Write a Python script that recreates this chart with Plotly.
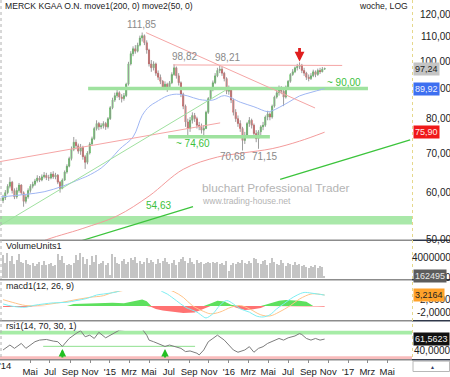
import math
import pandas as pd
import plotly.graph_objects as go

W, H = 450, 377
FONT = "Liberation Sans, Arial, sans-serif"

# ------------------------------------------------------------------ data
START = "2014-02-07"  # first weekly candle (Friday)

closes = [58.8, 60.0, 61.5, 62.5, 60.5, 59.0, 60.5, 61.8, 60.0,
          58.0, 59.0, 60.5, 61.5, 62.0, 62.8, 63.5, 63.0, 63.8, 64.2,
          63.6, 63.5, 64.5, 63.8, 64.2, 62.5, 61.0, 63.0, 65.0,
          66.5, 68.5, 71.0, 73.0, 72.0, 70.5, 71.5, 69.0, 67.5, 70.0,
          72.5, 74.0, 77.0, 78.5, 77.5, 77.8, 78.5, 77.5, 80.0,
          83.5, 86.0, 87.5, 88.5, 87.0, 86.5, 87.5, 91.5, 99.0, 103.0,
          105.0, 104.0, 106.5, 109.5, 110.5, 107.5, 104.5, 99.0, 97.5,
          99.0, 95.5, 94.0, 92.5, 90.5, 91.5, 90.0, 92.0, 95.0, 97.5,
          94.5, 92.0, 88.0, 84.0, 79.0, 77.0, 79.5, 81.0, 80.0, 78.0,
          77.5, 76.5, 77.0, 82.0, 86.5, 89.5, 92.0, 94.5, 96.5, 97.0,
          95.5, 93.5, 89.0, 89.5, 86.0, 82.0, 80.0, 78.5, 77.0,
          73.5, 75.0, 78.5, 79.5, 78.0, 75.5, 74.0, 76.0, 77.5, 78.0,
          80.5, 81.5, 80.5, 84.0, 87.0, 88.5, 90.0, 89.0, 87.0, 90.5,
          92.5, 95.0, 96.0, 97.5, 98.0, 98.5, 96.5, 95.5, 94.0,
          93.5, 94.5, 96.0, 95.0, 96.5, 96.0, 97.0, 97.24]
opens = [58.2, 58.8, 60.0, 61.5, 62.5, 60.5, 59.0, 60.5, 61.8,
         60.0, 58.0, 59.0, 60.5, 61.5, 62.0, 62.8, 63.5, 63.0, 63.8,
         64.2, 63.6, 63.5, 64.5, 63.8, 64.2, 62.5, 61.0, 63.0,
         65.0, 66.5, 68.5, 71.0, 73.0, 72.0, 70.5, 71.5, 69.0, 67.5,
         70.0, 72.5, 74.0, 77.0, 78.5, 77.5, 77.8, 78.5, 77.5,
         80.0, 83.5, 86.0, 87.5, 88.5, 87.0, 86.5, 87.5, 91.5, 99.0,
         103.0, 105.0, 104.0, 106.5, 109.5, 110.5, 107.5, 104.5, 99.0,
         97.5, 99.0, 95.5, 94.0, 92.5, 90.5, 91.5, 90.0, 92.0, 95.0,
         97.5, 94.5, 92.0, 88.0, 84.0, 79.0, 77.0, 79.5, 81.0, 80.0,
         78.0, 77.5, 76.5, 77.0, 82.0, 86.5, 89.5, 92.0, 94.5, 96.5,
         97.0, 95.5, 93.5, 89.0, 89.5, 86.0, 82.0, 80.0, 78.5,
         77.0, 73.5, 75.0, 78.5, 79.5, 78.0, 75.5, 74.0, 76.0, 77.5,
         78.0, 80.5, 81.5, 80.5, 84.0, 87.0, 88.5, 90.0, 89.0, 87.0,
         90.5, 92.5, 95.0, 96.0, 97.5, 98.0, 98.5, 96.5, 95.5,
         94.0, 93.5, 94.5, 96.0, 95.0, 96.5, 96.0, 97.0]
highs = [59.5, 60.6, 62.0, 63.7, 62.8, 61.0, 61.2, 62.3, 62.0,
         60.3, 59.6, 61.0, 62.0, 62.6, 63.3, 64.2, 64.0, 64.4, 65.0,
         64.8, 64.3, 65.0, 65.2, 64.8, 64.5, 62.8, 63.4, 65.4,
         67.0, 69.0, 71.8, 74.5, 73.8, 72.6, 72.5, 72.0, 69.5, 70.5,
         73.0, 74.6, 77.5, 79.5, 79.0, 78.6, 79.2, 79.0, 80.5,
         84.0, 86.8, 88.5, 89.5, 89.0, 88.0, 88.4, 92.0, 99.8, 104.0,
         106.0, 106.5, 107.5, 110.5, 111.85, 111.0, 108.5, 105.0, 100.5,
         100.0, 99.5, 96.5, 95.0, 93.0, 92.5, 92.0, 92.6, 95.8, 98.82,
         98.0, 95.5, 92.5, 88.5, 84.5, 80.0, 80.5, 82.0, 81.8, 80.6,
         79.0, 78.5, 78.0, 82.5, 87.0, 90.0, 92.8, 95.5, 97.5, 98.21,
         97.8, 96.0, 94.0, 91.0, 90.0, 86.5, 83.0, 81.0, 79.5,
         77.5, 76.0, 79.0, 80.5, 80.0, 78.5, 76.5, 76.5, 78.0, 79.0,
         81.0, 82.5, 82.0, 84.5, 87.5, 89.5, 91.0, 90.8, 89.5, 91.0,
         93.0, 95.5, 97.0, 98.0, 99.0, 99.6, 99.0, 97.5, 96.0,
         95.0, 95.5, 96.8, 96.5, 97.2, 97.5, 97.8, 97.6]
lows = [57.6, 58.3, 59.6, 61.0, 59.8, 58.5, 58.6, 60.0, 59.5,
        56.8, 57.5, 58.6, 60.0, 61.0, 61.6, 62.4, 62.5, 62.7, 63.4,
        63.0, 62.8, 63.2, 63.3, 63.2, 62.0, 60.0, 60.8, 62.8,
        64.6, 66.2, 68.0, 70.5, 71.0, 69.8, 69.5, 68.2, 65.8, 67.0,
        69.6, 72.0, 73.6, 76.4, 76.5, 76.8, 77.0, 76.6, 77.0,
        79.6, 83.0, 85.4, 86.8, 86.0, 85.2, 85.8, 87.0, 91.0, 98.4,
        102.0, 103.0, 103.5, 106.0, 108.0, 106.5, 103.0, 98.0, 96.0,
        96.5, 94.5, 93.0, 91.5, 89.5, 89.6, 88.8, 89.5, 91.5, 94.5,
        93.5, 91.0, 87.0, 83.0, 77.5, 74.6, 76.0, 78.5, 79.0, 77.0,
        76.5, 75.5, 74.6, 76.8, 81.5, 86.0, 89.0, 91.5, 94.0, 95.5,
        94.5, 92.5, 88.0, 87.8, 85.0, 81.0, 79.0, 77.5, 76.0,
        70.68, 72.5, 74.5, 77.5, 77.0, 74.5, 73.0, 71.15, 75.0, 76.5,
        77.5, 79.5, 79.5, 80.0, 83.5, 86.5, 87.5, 88.0, 84.0, 86.5,
        89.5, 92.0, 94.5, 95.5, 96.5, 97.0, 95.5, 94.5, 93.0,
        92.5, 93.0, 94.0, 94.0, 94.5, 95.2, 95.8, 96.8]

volume_mio = [4.6, 3.0, 5.0, 3.4, 4.4, 2.8, 3.6, 4.8, 3.2, 3.0,
              3.6, 2.8, 2.6, 3.0, 2.4, 2.8, 3.2, 2.6, 3.4, 2.6,
              2.8, 3.0, 2.4, 2.6, 4.8, 3.6, 4.4, 3.0, 2.6, 2.8,
              2.6, 3.0, 4.6, 3.6, 5.0, 4.2, 2.8, 3.8, 2.6, 4.4,
              3.2, 4.6, 2.8, 3.0, 3.4, 2.6, 3.0, 0.6, 4.8, 4.2,
              3.0, 2.8, 3.4, 3.8, 2.8, 3.2, 4.0, 3.6, 4.2, 3.0,
              3.4, 2.8, 3.2, 4.0, 3.0, 3.6, 3.2, 2.8, 3.8, 3.0,
              3.4, 4.0, 3.2, 2.8, 3.0, 3.6, 2.6, 3.2, 3.8, 4.2,
              3.4, 3.0, 4.0, 3.2, 2.8, 3.6, 3.0, 3.2, 2.8, 3.0,
              3.1, 3.0, 3.2, 2.9, 3.1, 2.8, 3.0, 2.6, 3.4, 1.4,
              2.6, 3.0, 2.8, 3.2, 3.0, 3.6, 3.0, 2.8, 3.4, 3.0,
              4.0, 3.8, 3.0, 2.8, 3.4, 3.6, 2.6, 3.0, 4.0, 3.2,
              2.8, 2.6, 3.6, 3.0, 2.4, 3.0, 2.8, 2.6, 3.2, 2.6,
              2.8, 2.4, 2.6, 2.2, 2.0, 2.4, 2.2, 2.6, 2.0, 2.4,
              2.2, 0.162495]

# moving averages (week index, value)
ma200_week = [8, 17, 35, 50, 64, 79, 94, 105, 118, 130, 141]
ma200_vals = [47.5, 49.6, 52.2, 54.8, 59.2, 65.7, 68.9, 70.0, 71.2, 73.3, 75.90]
ma50_week = [-1, 10, 18, 26, 34, 37, 43, 47, 51, 57, 61, 64, 67, 72, 76, 81,
             86, 92, 97, 104, 110, 116, 118, 125, 130, 135, 141]
ma50_vals = [59.0, 59.6, 60.2, 61.5, 63.3, 64.0, 66.0, 68.2, 71.0, 74.5, 81.0,
             83.8, 85.3, 87.4, 88.0, 87.4, 86.2, 86.0, 87.5, 85.3, 83.8, 82.2,
             82.5, 85.2, 87.4, 88.6, 89.92]

# MACD (week index, value)
macd_week = [0, 4, 10, 13, 18, 22, 28, 32, 37, 41, 44, 47, 50, 54, 58, 62, 66,
             70, 72, 76, 80, 85, 88, 89, 92, 95, 98, 101, 104, 108, 111, 114,
             117, 120, 123, 126, 129, 132, 135, 138, 141]
macd_vals = [0.59, -0.1, -0.4, 0.1, 0.6, 0.9, 1.08, 1.57, 2.25, 3.24, 3.53,
             3.82, 4.2, 5.5, 6.5, 7.0, 6.0, 4.2, 3.53, 1.57, -0.4, -1.86, -3.3,
             -3.6, -2.35, 0.1, 1.57, 0.59, -0.88, -1.86, -3.0, -3.3, -2.65,
             -0.88, 0.59, 2.06, 3.24, 4.0, 3.82, 3.53, 3.2164]
signal_week = [0, 4, 10, 15, 21, 26, 32, 38, 44, 48, 52, 58, 64, 70, 75, 79,
               83, 88, 91, 95, 100, 104, 108, 113, 117, 121, 126, 130, 135,
               138, 141]
signal_vals = [1.86, 1.08, 0.1, 0.1, 0.59, 1.08, 1.86, 2.55, 3.04, 4.0, 4.5,
               5.5, 6.2, 5.5, 4.2, 2.55, 0.1, -1.67, -2.35, -1.86, -0.4, 0.1,
               -0.88, -2.65, -3.0, -1.86, 0.1, 2.06, 3.53, 3.53, 3.24]
hist_week = [0, 3, 8, 12, 13, 16, 20, 25, 28, 31, 36, 39, 44, 48, 53, 58, 61,
             63, 65, 67, 70, 75, 79, 84, 86, 88, 91, 94, 97, 100, 103, 106,
             109, 113, 115, 118, 121, 124, 127, 130, 133, 135, 136, 137, 138,
             141]
hist_vals = [-0.35, -0.4, -0.47, -0.35, -0.12, 0.06, 0.12, 0.12, 0.0, 0.6, 0.7,
             0.82, 0.7, 0.95, 0.82, 1.4, 1.9, 1.4, -0.35, -0.95, -1.4, -1.9,
             -2.1, -2.0, -1.4, -0.7, 0.7, 1.5, 1.3, 0.35, -0.7, -1.2, -1.05,
             -0.6, 0.35, 0.95, 1.5, 1.75, 1.65, 1.5, 1.2, 0.35, 0.0, 0.0, -0.2,
             -0.24]

# RSI (week index, value)
rsi_week = [0, 3, 5, 8, 10, 12, 14, 16, 19, 22, 24, 26, 29, 32, 34, 36, 38, 40,
            42, 45, 47, 49, 51, 55, 61, 63, 64, 66, 69, 71, 73, 75, 78, 80, 82,
            85, 86, 88, 90, 92, 94, 97, 99, 101, 103, 106, 108, 110, 112, 114,
            116, 118, 121, 123, 125, 128, 130, 131, 133, 135, 137, 139, 141]
rsi_vals = [41.5, 50.6, 44.5, 53.6, 44.5, 50.6, 56.7, 59.7, 60.9, 57.9, 56.7,
            48.0, 62.7, 71.8, 77.0, 65.8, 68.8, 62.7, 74.0, 63.9, 68.8, 74.0,
            78.0, 80.0, 80.0, 68.8, 59.7, 56.7, 50.6, 48.0, 50.6, 47.6, 44.5,
            38.5, 39.7, 35.5, 32.4, 41.5, 56.7, 62.7, 68.8, 59.7, 50.6, 41.5,
            37.3, 41.5, 47.6, 37.3, 44.5, 47.6, 53.6, 56.7, 62.7, 59.7, 63.9,
            67.3, 71.8, 70.0, 62.7, 59.7, 62.7, 59.7, 61.5623]
rsi_upper, rsi_lower = 70, 30
rsi_support_week = [17.6, 84.2]
rsi_support_val = 48.2
rsi_arrow_week = [26, 71]

# chart drawings (week index, price)
red_down_week, red_down_price = [62.7, 136.8], [111.8, 83.4]
red_res_week, red_res_price = [74.6, 148.7], [98.6, 98.4]
red_up_week, red_up_price = [-1.3, 95.2], [67.7, 78.7]
grn_up_week, grn_up_price = [-1.3, 97.4], [52.8, 89.3]
grn_long_week = [34.6, 83.3, None, 121.5, 178.5]
grn_long_price = [49.8, 56.8, None, 63.2, 73.7]
sup90_week, sup90 = [37.3, 160.0], 90.0
sup746_week, sup746 = [72.4, 117.0], 74.6
zone_lo, zone_hi = 53.0, 54.8
top_arrow_week, top_arrow_price = 130, 99.9

tick_dates = ["2014-05-01", "2014-07-01", "2014-09-01", "2014-11-01",
              "2015-01-01", "2015-03-01", "2015-05-01", "2015-07-01",
              "2015-09-01", "2015-11-01", "2016-01-01", "2016-03-01",
              "2016-05-01", "2016-07-01", "2016-09-01", "2016-11-01",
              "2017-01-01", "2017-03-01", "2017-05-01"]
tick_labels = ["Mai", "Jul", "Sep", "Nov", "'15", "Mrz", "Mai", "Jul", "Sep",
               "Nov", "'16", "Mrz", "Mai", "Jul", "Sep", "Nov", "'17", "Mrz",
               "Mai"]
price_ticks = [120, 110, 100, 90, 80, 70, 60, 50]

# ------------------------------------------------------------------ helpers
T0 = pd.Timestamp(START)


def wk(i):
    return None if i is None else T0 + pd.Timedelta(days=7 * i)


def px_date(px):  # horizontal pixel calibration of the time axis
    return pd.Timestamp("2014-01-01") + pd.Timedelta(days=(px + 9) / 119 * 365.25)


def py(p):
    return 1 - p / H


def pxf(p):
    return p / W


dates = [wk(i) for i in range(len(closes))]
X0, X1 = px_date(0), px_date(412)

fig = go.Figure()

# --- main panel ---------------------------------------------------------
fig.add_trace(go.Scatter(x=[X0, X1, X1, X0, X0],
                         y=[zone_lo, zone_lo, zone_hi, zone_hi, zone_lo],
                         fill="toself", fillcolor="#a9e8a9", mode="lines",
                         line=dict(width=0), yaxis="y"))
fig.add_trace(go.Scatter(x=[wk(w) for w in sup90_week], y=[sup90, sup90],
                         mode="lines", line=dict(color="#9fe29f", width=3.5)))
fig.add_trace(go.Scatter(x=[wk(w) for w in sup746_week], y=[sup746, sup746],
                         mode="lines", line=dict(color="#9fe29f", width=3.5)))
fig.add_trace(go.Scatter(x=[wk(w) for w in ma200_week], y=ma200_vals,
                         mode="lines", line=dict(color="#f39b9b", width=1, shape="spline")))
fig.add_trace(go.Scatter(x=[wk(w) for w in ma50_week], y=ma50_vals,
                         mode="lines", line=dict(color="#9fb6f3", width=1, shape="spline")))
for ws, ps, col, lw in [(red_down_week, red_down_price, "#f5a5a5", 1),
                        (red_res_week, red_res_price, "#f5a5a5", 1),
                        (red_up_week, red_up_price, "#f5a5a5", 1),
                        (grn_up_week, grn_up_price, "#9fe09f", 1),
                        (grn_long_week, grn_long_price, "#3cc43c", 1.3)]:
    fig.add_trace(go.Scatter(x=[wk(w) for w in ws], y=ps, mode="lines",
                             line=dict(color=col, width=lw), connectgaps=False))

fig.add_trace(go.Ohlc(x=dates, open=opens, high=highs, low=lows, close=closes,
                      tickwidth=0,
                      increasing=dict(line=dict(color="#9c9c9c", width=1)),
                      decreasing=dict(line=dict(color="#9c9c9c", width=1))))
body_hi = [max(o, c) for o, c in zip(opens, closes)]
body_lo = [min(o, c) for o, c in zip(opens, closes)]
fig.add_trace(go.Candlestick(x=dates, open=opens, high=body_hi, low=body_lo,
                             close=closes, whiskerwidth=0,
                             increasing=dict(line=dict(color="#22b422", width=0.5),
                                             fillcolor="#22b422"),
                             decreasing=dict(line=dict(color="#d21c1c", width=0.5),
                                             fillcolor="#d21c1c")))

# --- volume -------------------------------------------------------------
fig.add_trace(go.Bar(x=dates[:len(volume_mio)], y=[v * 1e6 for v in volume_mio],
                     width=4 * 86400000, marker=dict(color="#c4c4c4", line=dict(width=0)),
                     yaxis="y2"))

# --- MACD ---------------------------------------------------------------
hx = [wk(w) for w in hist_week]
fig.add_trace(go.Scatter(x=hx, y=[max(v, 0) for v in hist_vals], fill="tozeroy",
                         fillcolor="#5ee05e", mode="lines", line=dict(width=0),
                         yaxis="y3"))
fig.add_trace(go.Scatter(x=hx, y=[min(v, 0) for v in hist_vals], fill="tozeroy",
                         fillcolor="#ff7272", mode="lines", line=dict(width=0),
                         yaxis="y3"))
fig.add_trace(go.Scatter(x=[wk(w) for w in signal_week], y=signal_vals, mode="lines",
                         line=dict(color="#ffc489", width=1, shape="spline"), yaxis="y3"))
fig.add_trace(go.Scatter(x=[wk(w) for w in macd_week], y=macd_vals, mode="lines",
                         line=dict(color="#7eeef2", width=1, shape="spline"), yaxis="y3"))

# --- RSI ----------------------------------------------------------------
fig.add_trace(go.Scatter(x=[wk(w) for w in rsi_support_week],
                         y=[rsi_support_val, rsi_support_val], mode="lines",
                         line=dict(color="#8fe08f", width=1), yaxis="y4"))
fig.add_trace(go.Scatter(x=[wk(w) for w in rsi_week], y=rsi_vals, mode="lines",
                         line=dict(color="#7c7c7c", width=1), yaxis="y4"))

RSI_RANGE = [24.55, 77.27]
shapes = [
    dict(type="rect", xref="x", yref="y4", x0=X0, x1=X1, y0=rsi_upper, y1=RSI_RANGE[1],
         fillcolor="#a6eca6", line=dict(width=0), layer="below"),
    dict(type="rect", xref="x", yref="y4", x0=X0, x1=X1, y0=RSI_RANGE[0], y1=rsi_lower,
         fillcolor="#f9bcbc", line=dict(width=0), layer="below"),
]
for yy in [243.5, 283.5, 325.0, 364.5]:
    shapes.append(dict(type="line", xref="paper", yref="paper", x0=0, x1=pxf(412),
                       y0=py(yy), y1=py(yy), line=dict(color="#8c8c8c", width=1.5)))
    shapes.append(dict(type="line", xref="paper", yref="paper", x0=pxf(412), x1=1,
                       y0=py(yy), y1=py(yy), line=dict(color="#30384a", width=1.5)))
shapes.append(dict(type="line", xref="paper", yref="paper", x0=pxf(412.5), x1=pxf(412.5),
                   y0=py(0), y1=py(365), line=dict(color="#e6d88c", width=1, dash="dot")))
shapes.append(dict(type="line", xref="paper", yref="paper", x0=pxf(1), x1=pxf(1),
                   y0=py(0), y1=py(365), line=dict(color="#b0b0b0", width=1, dash="dot")))
shapes.append(dict(type="rect", xref="paper", yref="paper", x0=pxf(413), x1=pxf(449.5),
                   y0=py(376.5), y1=py(366), line=dict(color="#b8b8b8", width=1)))

ann = []


def text(x, y, s, size=10, color="#222", xanchor="center", **kw):
    ann.append(dict(x=pxf(x), y=py(y), xref="paper", yref="paper", text=s,
                    showarrow=False, xanchor=xanchor, yanchor="middle",
                    font=dict(family=FONT, size=size, color=color), **kw))


text(3, 6, "MERCK KGAA O.N. move1(200, 0) move2(50, 0)", size=8.6, xanchor="left")
text(410, 6, "woche, LOG", size=8.6, xanchor="right")
text(4, 249.5, "VolumeUnits1", size=9, xanchor="left")
text(4, 290, "macd1(12, 26, 9)", size=9, xanchor="left")
text(4, 330.5, "rsi1(14, 70, 30, 1)", size=9, xanchor="left")
text(5, 370.5, "'14", size=9.5)
text(432, 371.5, "▲", size=5, color="#33406a")

# price annotations
text(142, 25, "111,85", color="#8a8a8a")
text(184, 57, "98,82", color="#8a8a8a")
text(227, 58, "98,21", color="#8a8a8a")
text(232, 158.5, "70,68", color="#8a8a8a")
text(264, 158.5, "71,15", color="#8a8a8a")
text(193, 145, "~ 74,60", color="#3cbf3c")
text(344, 83.5, "~ 90,00", color="#3cbf3c")
text(158, 208.5, "54,63", color="#3cbf3c")
# watermark
text(200, 191, "bluchart Professional Trader", size=11.8, color="#b4b4b4", xanchor="left")
text(200, 203.5, "www.trading-house.net", size=8.6, color="#b4b4b4", xanchor="left")

# right axis tick labels (right aligned, clipped at the edge)
for v in price_ticks:
    ann.append(dict(x=pxf(452.5), y=math.log10(v), xref="paper", yref="y",
                    text=f"{v},00", showarrow=False, xanchor="right",
                    font=dict(family=FONT, size=10, color="#222")))
for v, s, ax in [(4e6, "4000000", "y2"), (0, "0", "y2"), (2, "2,0000", "y3"),
                 (-2, "-2,0000", "y3"), (40, "40,0000", "y4")]:
    ann.append(dict(x=pxf(452.5), y=v, xref="paper", yref=ax, text=s,
                    showarrow=False, xanchor="right",
                    font=dict(family=FONT, size=10, color="#222")))

# last-value boxes
for v, s, ax, bg, fg in [(math.log10(closes[-1]), "97,24", "y", "#c4c4c4", "#222"),
                         (math.log10(ma50_vals[-1]), "89,92", "y", "#3d6ff0", "#f0f0ff"),
                         (math.log10(ma200_vals[-1]), "75,90", "y", "#f01818", "#ffe8e8"),
                         (volume_mio[-1] * 1e6, "162495", "y2", "#5c5c5c", "#e8e8e8"),
                         (macd_vals[-1], "3,2164", "y3", "#ffa22a", "#222"),
                         (rsi_vals[-1], "61,5623", "y4", "#111111", "#f0f0f0")]:
    ann.append(dict(x=pxf(413), y=v, xref="paper", yref=ax, text=s, showarrow=False,
                    xanchor="left", bgcolor=bg, borderpad=1,
                    font=dict(family=FONT, size=9, color=fg)))

# arrows
ann.append(dict(x=wk(top_arrow_week), y=math.log10(top_arrow_price), xref="x", yref="y",
                text="", showarrow=True, ax=0, ay=-15, arrowhead=2, arrowsize=0.7,
                arrowwidth=2.8, arrowcolor="#e01e1e"))
for w in rsi_arrow_week:
    ann.append(dict(x=wk(w), y=43.5, xref="x", yref="y4", text="", showarrow=True,
                    ax=0, ay=10, arrowhead=2, arrowsize=0.75, arrowwidth=2,
                    arrowcolor="#22c022"))

LOGR = [math.log10(100 * math.exp(-181 / 260)), math.log10(100 * math.exp(62 / 260))]
hidden = dict(showticklabels=False, showgrid=False, zeroline=False, showline=False,
              ticks="", fixedrange=True)

fig.update_layout(
    width=W, height=H, margin=dict(l=0, r=0, t=0, b=0),
    paper_bgcolor="white", plot_bgcolor="white", showlegend=False, hovermode=False,
    bargap=0,
    xaxis=dict(type="date", domain=[0, pxf(412)], range=[X0, X1], anchor="y4",
               rangeslider=dict(visible=False), showgrid=False, zeroline=False,
               tickvals=[pd.Timestamp(d) for d in tick_dates], ticktext=tick_labels,
               tickangle=0, ticks="outside", ticklen=3, tickcolor="#8c8c8c",
               showline=False, tickfont=dict(family=FONT, size=9.5, color="#222")),
    yaxis=dict(type="log", domain=[py(243.5), 1], range=LOGR, anchor="x", **hidden),
    yaxis2=dict(domain=[py(283), py(253)], range=[-0.4e6, 5.6e6], anchor="x", **hidden),
    yaxis3=dict(domain=[py(325), py(295)], range=[-4.41, 4.41], anchor="x", **hidden),
    yaxis4=dict(domain=[py(364), py(335)], range=RSI_RANGE, anchor="x", **hidden),
    shapes=shapes, annotations=ann,
)

fig.write_html("out.html")
